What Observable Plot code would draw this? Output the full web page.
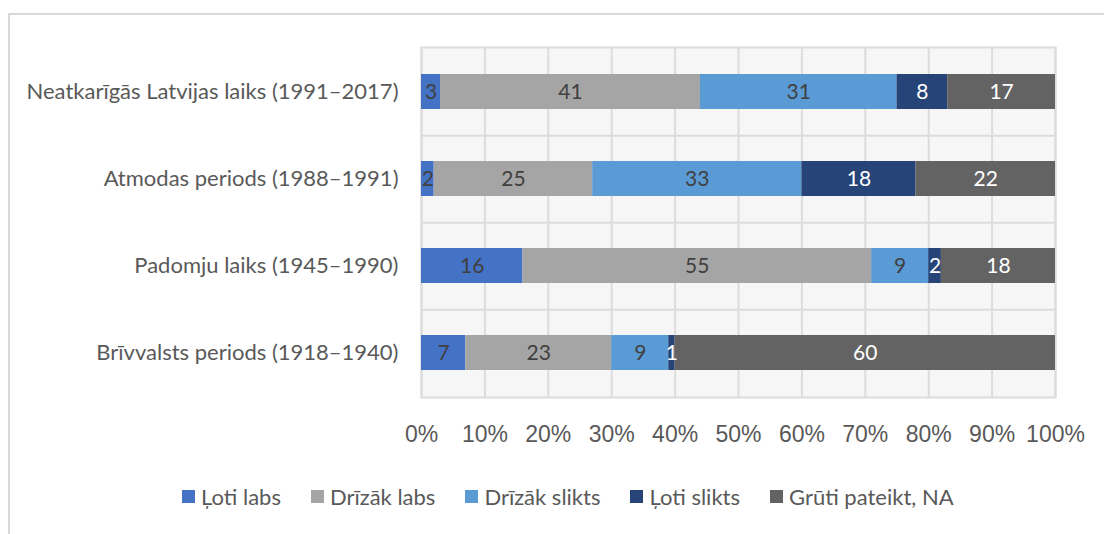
<!DOCTYPE html>
<html>
<head>
<meta charset="utf-8">
<script src="https://cdn.jsdelivr.net/npm/d3@7"></script>
<script src="https://cdn.jsdelivr.net/npm/@observablehq/plot@0.6"></script>
<style>
  html, body { margin: 0; padding: 0; background: #fff; width: 1104px; height: 534px; overflow: hidden; }
  #frame { position: absolute; left: 8px; top: 13px; width: 1200px; height: 600px; border-left: 2px solid #d9d9d9; border-top: 2px solid #d9d9d9; }
  #chart { position: absolute; left: 0; top: 0; }
  #legend { position: absolute; left: 182px; top: 483px; display: flex; gap: 30px; font-family: Lato, sans-serif; font-size: 22px; color: #595959; }
  #legend .item { display: flex; align-items: center; gap: 6px; }
  #legend .sw { width: 13px; height: 13px; display: inline-block; }
</style>
</head>
<body>
<div id="frame"></div>
<div id="chart"></div>
<div id="legend"></div>
<script>
const periods = [
  "Neatkarīgās Latvijas laiks (1991–2017)",
  "Atmodas periods (1988–1991)",
  "Padomju laiks (1945–1990)",
  "Brīvvalsts periods (1918–1940)"
];
const categories = ["Ļoti labs", "Drīzāk labs", "Drīzāk slikts", "Ļoti slikts", "Grūti pateikt, NA"];
const lotiLabs     = [3, 2, 16, 7];
const drizakLabs   = [41, 25, 55, 23];
const drizakSlikts = [31, 33, 9, 9];
const lotiSlikts   = [8, 18, 2, 1];
const gruti        = [17, 22, 18, 60];
const xTicks = [0, 10, 20, 30, 40, 50, 60, 70, 80, 90, 100];
const colors = ["#4472C4", "#A5A5A5", "#5B9BD5", "#264478", "#636363"];
const labelColors = ["#404040", "#404040", "#404040", "#ffffff", "#ffffff"];

const series = [lotiLabs, drizakLabs, drizakSlikts, lotiSlikts, gruti];
const data = [];
categories.forEach((c, ci) => {
  periods.forEach((p, pi) => {
    data.push({period: p, cat: c, value: series[ci][pi], ci});
  });
});

const W = 1104, H = 460;
const mT = 47, mB = 63, mL = 421, mR = 49;
const step = (H - mT - mB) / periods.length;

const plot = Plot.plot({
  width: W, height: H,
  marginTop: mT, marginBottom: mB, marginLeft: mL, marginRight: mR,
  style: {background: "transparent", overflow: "visible"},
  x: {domain: [0, 100]},
  y: {domain: periods, paddingInner: 0.6, paddingOuter: 0.3},
  color: {domain: categories, range: colors},
  marks: [
    Plot.frame({fill: "url(#hatch)", stroke: null}),
    Plot.gridX(xTicks, {stroke: "#dcdcdc", strokeWidth: 2, strokeOpacity: 1}),
    Plot.ruleY(periods.slice(0, periods.length - 1), {y: d => d, dy: step / 2, stroke: "#dcdcdc", strokeWidth: 2}),
    Plot.frame({stroke: "#dcdcdc", strokeWidth: 2}),
    Plot.barX(data, Plot.stackX({x: "value", y: "period", fill: "cat", order: categories})),
    Plot.text(data, Plot.stackX({x: "value", y: "period", z: "cat", order: categories, text: d => String(d.value),
      fill: d => labelColors[d.ci], fontSize: 21, fontFamily: "Lato"})),
    Plot.axisX(xTicks, {tickSize: 0, tickPadding: 28, tickFormat: d => d + "%", fontSize: 23,
      fontFamily: "Liberation Sans", color: "#595959", label: null}),
    Plot.axisY(periods, {tickSize: 0, tickPadding: 23, fontSize: 22, fontFamily: "Lato", color: "#595959", label: null})
  ]
});

// hatch pattern for the plot background
const ns = "http://www.w3.org/2000/svg";
const defs = document.createElementNS(ns, "defs");
const pat = document.createElementNS(ns, "pattern");
pat.setAttribute("id", "hatch");
pat.setAttribute("width", "4");
pat.setAttribute("height", "4");
pat.setAttribute("patternUnits", "userSpaceOnUse");
const addRect = (x, y, w, h, f) => {
  const r = document.createElementNS(ns, "rect");
  r.setAttribute("x", x); r.setAttribute("y", y);
  r.setAttribute("width", w); r.setAttribute("height", h);
  r.setAttribute("fill", f);
  pat.appendChild(r);
};
addRect(0, 0, 4, 4, "#fbfbfb");
addRect(0, 0, 1, 1, "#e6e6e6");
addRect(2, 1, 1, 1, "#e8e8e8");
addRect(1, 3, 1, 1, "#ececec");
addRect(3, 2, 1, 1, "#e6e6e6");
defs.appendChild(pat);
plot.insertBefore(defs, plot.firstChild);

document.getElementById("chart").appendChild(plot);

const legend = document.getElementById("legend");
categories.forEach((c, i) => {
  const item = document.createElement("div");
  item.className = "item";
  const sw = document.createElement("span");
  sw.className = "sw";
  sw.style.background = colors[i];
  const t = document.createElement("span");
  t.textContent = c;
  item.appendChild(sw);
  item.appendChild(t);
  legend.appendChild(item);
});
</script>
</body>
</html>
